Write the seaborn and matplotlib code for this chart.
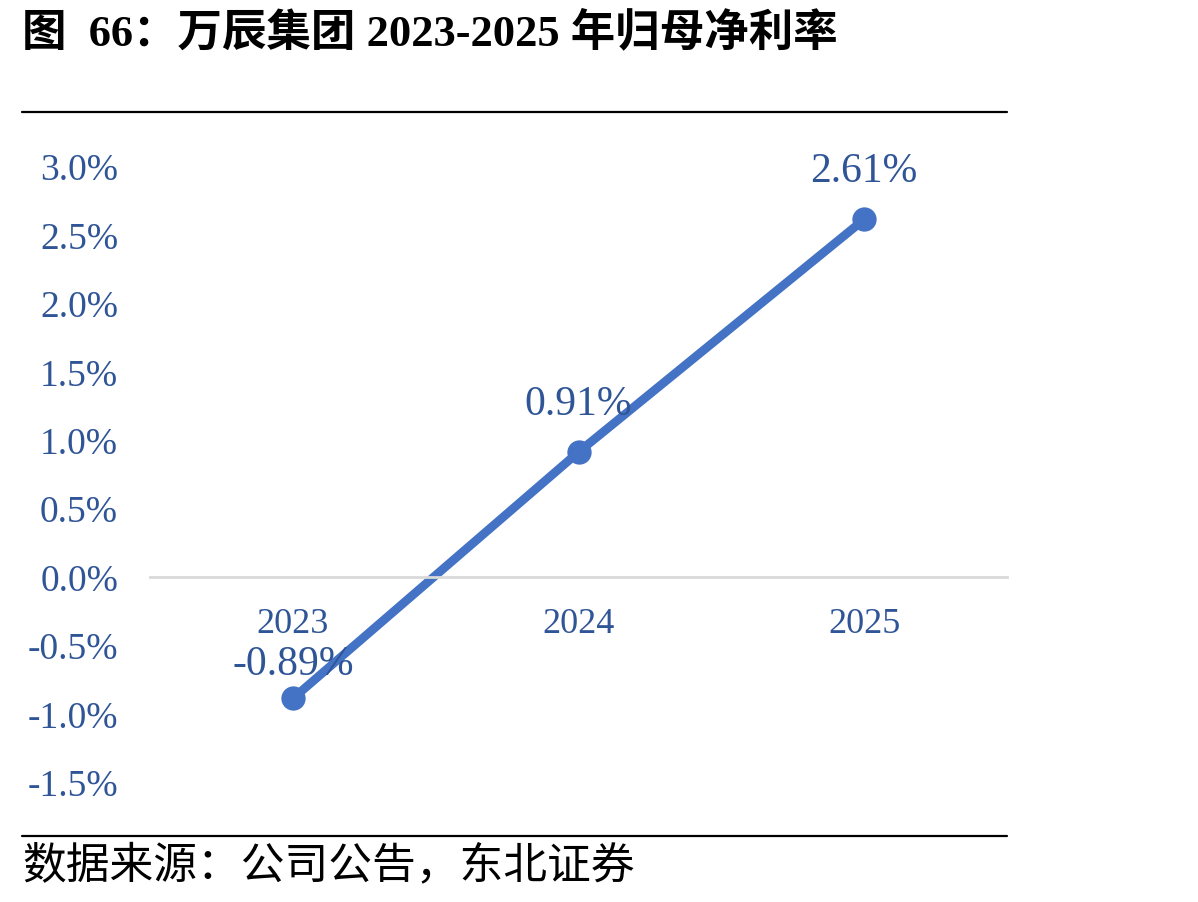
import matplotlib
matplotlib.use("Agg")
import matplotlib.pyplot as plt
import seaborn as sns
import pandas as pd
from matplotlib.lines import Line2D
from matplotlib.ticker import FuncFormatter

years = ["2023", "2024", "2025"]
margin = [-0.89, 0.91, 2.61]
yticks = [-1.5, -1.0, -0.5, 0.0, 0.5, 1.0, 1.5, 2.0, 2.5, 3.0]
title = "图  66：万辰集团 2023-2025 年归母净利率"
source = "数据来源：公司公告，东北证券"

sns.set_theme(style="white")
plt.rcParams['font.family'] = ['Liberation Serif', 'Noto Sans CJK SC', 'DejaVu Sans']

df = pd.DataFrame({"year": years, "margin": margin})

W, H = 1198, 903
fig = plt.figure(figsize=(W / 100, H / 100), dpi=100)
# axes: x 150..1007, y 167(3.0) .. 783(-1.5)
ax = fig.add_axes([150 / W, 1 - 783 / H, (1007 - 150) / W, (783 - 167) / H])

line_c = "#4472C4"
txt_c = "#2F5597"
sns.lineplot(data=df, x="year", y="margin", ax=ax, color=line_c, linewidth=6.3,
             marker="o", markersize=17.5, markeredgewidth=0, sort=False)

ax.set_xlim(-0.5, 2.5)
ax.set_ylim(-1.5, 3.0)
ax.set_yticks(yticks)
ax.yaxis.set_major_formatter(FuncFormatter(lambda v, p: f"{v:.1f}%"))
ax.tick_params(axis="y", labelsize=27, labelcolor=txt_c, length=0, pad=23)
ax.tick_params(axis="x", labelsize=26, labelcolor=txt_c, length=0, pad=22)
ax.set_xlabel("")
ax.set_ylabel("")
for s in ["top", "right", "left"]:
    ax.spines[s].set_visible(False)
ax.spines["bottom"].set_position(("data", 0))
ax.spines["bottom"].set_color("#D9D9D9")
ax.spines["bottom"].set_linewidth(2)
ax.grid(False)

offsets = [25, 35, 35]
for i, (yr, v) in enumerate(zip(years, margin)):
    ax.annotate(f"{v:.2f}%", (i, v), xytext=(0, offsets[i]), textcoords="offset points",
                ha="center", va="center", fontsize=30, color=txt_c)

fig.text(22 / W, 1 - 33 / H, title, fontsize=32, fontweight="bold", va="center", ha="left",
         color="black")
fig.text(22 / W, 1 - 866 / H, source, fontsize=31.5, va="center", ha="left", color="black")

for yy in [113, 837]:
    fig.add_artist(Line2D([22 / W, 1007 / W], [1 - yy / H, 1 - yy / H], color="black",
                          linewidth=1.6, transform=fig.transFigure))

fig.savefig("out.png", dpi=100, facecolor="white")
